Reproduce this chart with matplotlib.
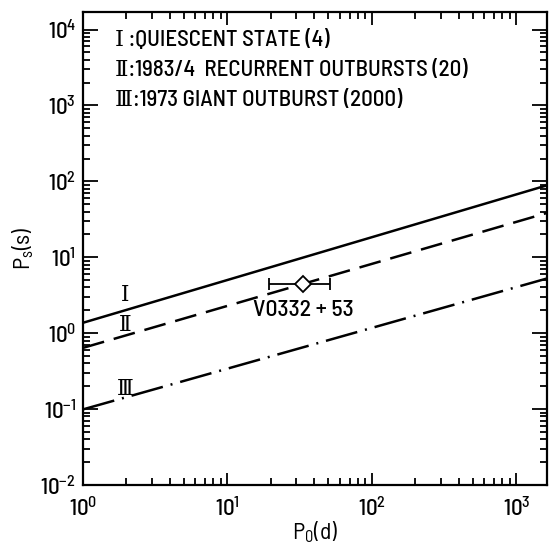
import matplotlib
matplotlib.use("Agg")
import matplotlib.pyplot as plt
import numpy as np

plt.rcParams['font.family'] = ['Barlow Semi Condensed', 'DejaVu Serif', 'DejaVu Sans']
plt.rcParams['font.weight'] = 500
plt.rcParams['mathtext.fontset'] = 'custom'
plt.rcParams['mathtext.rm'] = 'Barlow Semi Condensed:medium'
plt.rcParams['mathtext.it'] = 'Barlow Semi Condensed:medium'
plt.rcParams['axes.unicode_minus'] = False

# --- data ---
p_orb = [1.0, 1625.0]
spin_I = [1.37, 88.6]      # quiescent state
spin_II = [0.64, 38.3]     # 1983/4 recurrent outbursts
spin_III = [0.099, 5.25]   # 1973 giant outburst

src_name = "V0332 + 53"
src_porb = 33.4
src_porb_lo = 19.4
src_porb_hi = 51.6
src_pspin = 4.4

curve_labels = ["Ⅰ", "Ⅱ", "Ⅲ"]
curve_label_x = [1.97, 1.97, 1.97]
curve_label_y = [3.2, 1.27, 0.186]
legend_lines = ["Ⅰ :QUIESCENT STATE (4)",
                "Ⅱ:1983/4  RECURRENT OUTBURSTS (20)",
                "Ⅲ:1973 GIANT OUTBURST (2000)"]

fig = plt.figure(figsize=(5.53, 5.48), dpi=100)
ax = fig.add_axes([0.150, 0.115, 0.839, 0.863])
ax.set_xscale('log')
ax.set_yscale('log')
ax.set_xlim(1, 1625)
ax.set_ylim(1e-2, 1.7e4)

ax.plot(p_orb, spin_I, color='black', lw=1.8, solid_capstyle='butt')
ax.plot(p_orb, spin_II, color='black', lw=1.8, dashes=(8.8, 4))
ax.plot(p_orb, spin_III, color='black', lw=1.8, dashes=(13, 3.2, 0.8, 3.2))

ax.errorbar([src_porb], [src_pspin],
            xerr=[[src_porb - src_porb_lo], [src_porb_hi - src_porb]],
            fmt='D', ms=8, mfc='white', mec='black', mew=1.3,
            ecolor='black', elinewidth=1.3, capsize=4, capthick=1.3, zorder=5)
ax.text(src_porb, 2.0, src_name, ha='center', va='center', fontsize=17)

serif = ['DejaVu Serif', 'DejaVu Sans']
for lab, lx, ly in zip(curve_labels, curve_label_x, curve_label_y):
    ax.text(lx, ly, lab, ha='center', va='center', fontsize=15.5, family=serif)

for i, line in enumerate(legend_lines):
    ax.text(0.069, 0.941 - i * 0.0634, line, transform=ax.transAxes,
            ha='left', va='center', fontsize=16.5)

ax.set_xlabel(r'P$_\mathregular{0}$(d)', fontsize=17, labelpad=0)
ax.set_ylabel(r'P$_\mathregular{s}$(s)', fontsize=17, labelpad=3)

ax.tick_params(which='both', direction='in', top=True, right=True, width=1.3,
               labelsize=16.5)
ax.tick_params(axis='x', which='both', pad=8)
ax.tick_params(axis='y', which='both', pad=5)
ax.tick_params(axis='x', which='major', length=9)
ax.tick_params(axis='x', which='minor', length=5)
ax.tick_params(axis='y', which='major', length=11)
ax.tick_params(axis='y', which='minor', length=5)
ax.xaxis.set_minor_locator(matplotlib.ticker.LogLocator(base=10, subs=np.arange(2, 10), numticks=20))
ax.yaxis.set_minor_locator(matplotlib.ticker.LogLocator(base=10, subs=np.arange(2, 10), numticks=20))
ax.xaxis.set_minor_formatter(matplotlib.ticker.NullFormatter())
ax.yaxis.set_minor_formatter(matplotlib.ticker.NullFormatter())
for sp in ax.spines.values():
    sp.set_linewidth(1.6)

fig.savefig("out.png", dpi=100)
